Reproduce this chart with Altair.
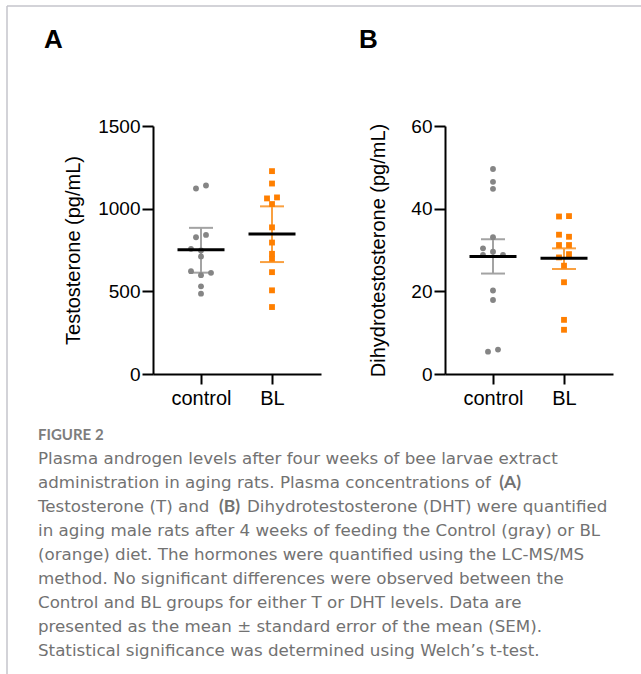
import altair as alt
import pandas as pd

# ---------------- data ----------------
GROUPS = ["control", "BL"]

T_CONTROL = [1122, 1140, 827, 841, 757, 747, 711, 622, 612, 598, 530, 486]
T_BL = [1227, 1152, 1062, 1068, 1028, 887, 795, 727, 697, 616, 506, 405]
DHT_CONTROL = [49.6, 46.5, 44.8, 33.1, 30.4, 29.6, 28.8, 28.8, 20.2, 17.9, 5.4, 5.9]
DHT_BL = [38.1, 38.2, 33.7, 33.2, 31.2, 31.2, 29.0, 28.2, 26.2, 22.2, 13.1, 10.7]

# horizontal scatter slot of each point (as drawn in the figure)
T_CONTROL_SLOT = [-1, 1, -1, 1, -2, 0, 0, -2, 2, 0, 0, 0]
T_BL_SLOT = [0, 0, -1, 1, 0, 0, 0, 0, 0, 0, 0, 0]
DHT_CONTROL_SLOT = [0, 0, 0, 0, -2, 0, -2, 2, 0, 0, -1, 1]
DHT_BL_SLOT = [-1, 1, -1, 1, -1, 1, 1, -1, 0, 0, 0, 0]

# mean and mean ± SEM
T_MEAN = [751, 847]
T_LOW = [613, 677]
T_HIGH = [884, 1014]
DHT_MEAN = [28.4, 28.0]
DHT_LOW = [24.3, 25.4]
DHT_HIGH = [32.6, 30.4]

Y_TITLES = ["Testosterone (pg/mL)", "Dihydrotestosterone (pg/mL)"]
T_TICKS = [0, 500, 1000, 1500]
DHT_TICKS = [0, 20, 40, 60]

CAPTION_HEAD = "FIGURE 2"
CAPTION_LINES = [
    "Plasma androgen levels after four weeks of bee larvae extract",
    "administration in aging rats. Plasma concentrations of",
    "Testosterone (T) and",
    "in aging male rats after 4 weeks of feeding the Control (gray) or BL",
    "(orange) diet. The hormones were quantified using the LC-MS/MS",
    "method. No significant differences were observed between the",
    "Control and BL groups for either T or DHT levels. Data are",
    "presented as the mean \u00b1 standard error of the mean (SEM).",
    "Statistical significance was determined using Welch\u2019s t-test.",
]
CAPTION_BOLD_A = "(A)"
CAPTION_BOLD_B = "(B)"
CAPTION_LINE3_REST = "Dihydrotestosterone (DHT) were quantified"

# ---------------- styling ----------------
FONT = "Liberation Sans"
CAP_FONT = "DejaVu Sans"
CAP_SIZE = 16.7
GRAY_PT = "#858585"
GRAY_BAR = "#a3a3a3"
ORANGE_PT = "#ff7f00"
ORANGE_BAR = "#f9a040"
CAP_COLOR = "#727272"
SLOT_W = 0.0704
X_DOMAIN = [-0.676, 1.69]
PW, PH = 168, 248


def points_frame(ctrl, bl, ctrl_slot, bl_slot):
    rows = []
    for v, s in zip(ctrl, ctrl_slot):
        rows.append({"group": GROUPS[0], "g": 0, "value": v, "slot": s})
    for v, s in zip(bl, bl_slot):
        rows.append({"group": GROUPS[1], "g": 1, "value": v, "slot": s})
    return pd.DataFrame(rows)


def summary_frame(mean, low, high):
    return pd.DataFrame({"group": GROUPS, "g": [0, 1], "mean": mean, "low": low, "high": high})


label_expr = "datum.value == 0 ? '%s' : '%s'" % (GROUPS[0], GROUPS[1])


def xenc(field):
    return alt.X(
        field,
        type="quantitative",
        scale=alt.Scale(domain=X_DOMAIN, nice=False, zero=False),
        title=None,
        axis=alt.Axis(
            values=[0, 1], labelExpr=label_expr, grid=False,
            domainColor="black", domainWidth=2, tickColor="black", tickWidth=2,
            tickSize=10, labelFont=FONT, labelFontSize=20, labelColor="black",
            labelPadding=4,
        ),
    )


def panel(pts, summ, ymax, ticks, ytitle, title_x):
    yscale = alt.Scale(domain=[0, ymax], nice=False, zero=True)
    yaxis = alt.Axis(
        values=ticks, format="d", grid=False, domainColor="black", domainWidth=2,
        tickColor="black", tickWidth=2, tickSize=11, labelFont=FONT,
        labelFontSize=19, labelColor="black", labelPadding=2,
        title=ytitle, titleFont=FONT, titleFontSize=20, titleFontWeight="normal",
        titleColor="black", titleX=title_x, titleY=PH / 2, titleAngle=-90,
        titleAlign="center", titleBaseline="bottom",
    )
    bar_color = alt.Color("group:N", scale=alt.Scale(domain=GROUPS, range=[GRAY_BAR, ORANGE_BAR]), legend=None)

    dots = alt.Chart(pts).transform_calculate(
        xpos="datum.g + datum.slot * %f" % SLOT_W
    ).mark_point(filled=True, opacity=1, size=34).encode(
        x=xenc("xpos"),
        y=alt.Y("value:Q", scale=yscale, axis=yaxis),
        fill=alt.Fill("group:N", scale=alt.Scale(domain=GROUPS, range=[GRAY_PT, ORANGE_PT]), legend=None),
        shape=alt.Shape("group:N", scale=alt.Scale(domain=GROUPS, range=["circle", "square"]), legend=None),
    )
    base = alt.Chart(summ)
    err = base.mark_rule(strokeWidth=2, opacity=1).encode(
        x=xenc("g"), y=alt.Y("low:Q", scale=yscale), y2="high:Q", color=bar_color
    )
    cap_lo = base.mark_tick(orient="horizontal", size=24, thickness=2, opacity=1).encode(
        x=xenc("g"), y=alt.Y("low:Q", scale=yscale), color=bar_color
    )
    cap_hi = base.mark_tick(orient="horizontal", size=24, thickness=2, opacity=1).encode(
        x=xenc("g"), y=alt.Y("high:Q", scale=yscale), color=bar_color
    )
    mean = base.mark_tick(orient="horizontal", size=47, thickness=3, color="black", opacity=1).encode(
        x=xenc("g"), y=alt.Y("mean:Q", scale=yscale)
    )
    return [err, cap_lo, cap_hi, dots, mean]


one = alt.InlineData(values=[{"k": 0}])


def text_layer(txt, x, y, align="left", **kw):
    return alt.Chart(one).mark_text(text=txt, align=align, baseline="alphabetic", **kw).encode(
        x=alt.value(x), y=alt.value(y)
    )


# decorations (positions relative to the origin of panel A's plot area)
deco = [
    alt.Chart(one).mark_rule(color="#c5c5cb", strokeWidth=1.5).encode(
        x=alt.value(-146), x2=alt.value(488), y=alt.value(-120)),
    alt.Chart(one).mark_rule(color="#c5c5cb", strokeWidth=1.5).encode(
        x=alt.value(-146), y=alt.value(-120), y2=alt.value(548)),
    text_layer("A", -109, -78, font=FONT, fontSize=26, fontWeight="bold", color="black"),
    text_layer("B", 206, -78, font=FONT, fontSize=26, fontWeight="bold", color="black"),
    text_layer(CAPTION_HEAD, -115, 314, font="Lato", fontSize=15, fontWeight="bold", color="#7d7d7d"),
    text_layer(CAPTION_LINES, -115, 338, font=CAP_FONT, fontSize=CAP_SIZE, color=CAP_COLOR, lineHeight=24),
    text_layer(CAPTION_BOLD_A, 368, 362, align="right", font="Lato", fontSize=17.5, fontWeight="bold", color=CAP_COLOR),
    text_layer(CAPTION_BOLD_B, 66, 386, font="Lato", fontSize=17.5, fontWeight="bold", color=CAP_COLOR),
    text_layer(CAPTION_LINE3_REST, 94, 386, font=CAP_FONT, fontSize=CAP_SIZE, color=CAP_COLOR),
]

pa = panel(points_frame(T_CONTROL, T_BL, T_CONTROL_SLOT, T_BL_SLOT),
           summary_frame(T_MEAN, T_LOW, T_HIGH), 1500, T_TICKS, Y_TITLES[0], -70)
pb = panel(points_frame(DHT_CONTROL, DHT_BL, DHT_CONTROL_SLOT, DHT_BL_SLOT),
           summary_frame(DHT_MEAN, DHT_LOW, DHT_HIGH), 60, DHT_TICKS, Y_TITLES[1], -57)

chart_a = alt.layer(*pa, *deco).properties(width=PW, height=PH)
chart_b = alt.layer(*pb).properties(width=PW, height=PH)

chart = alt.hconcat(chart_a, chart_b, spacing=124, bounds="flush").properties(
    autosize=alt.AutoSizeParams(type="none"),
    padding={"left": 153, "top": 126, "right": 488, "bottom": 548},
    background="white",
).configure_view(stroke=None)

chart.save("out.html", embed_options={"renderer": "svg", "actions": False})
